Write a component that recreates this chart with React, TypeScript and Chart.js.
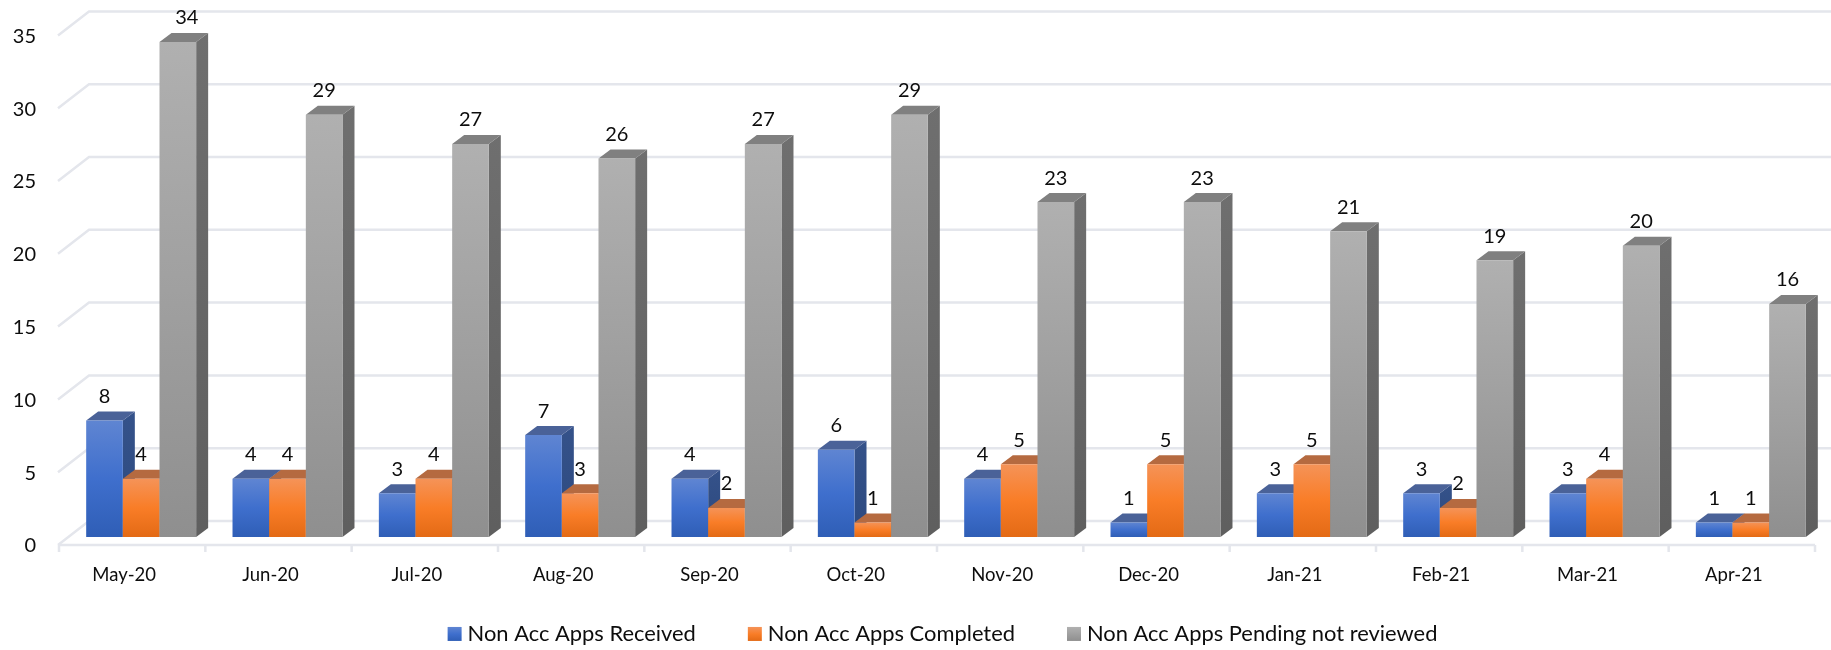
import React, { useEffect, useRef } from "react";
import { Chart, registerables } from "chart.js";

Chart.register(...registerables);

const categories = ["May-20", "Jun-20", "Jul-20", "Aug-20", "Sep-20", "Oct-20", "Nov-20", "Dec-20", "Jan-21", "Feb-21", "Mar-21", "Apr-21"];
const received = [8, 4, 3, 7, 4, 6, 4, 1, 3, 3, 3, 1];
const completed = [4, 4, 4, 3, 2, 1, 5, 5, 5, 2, 4, 1];
const pending = [34, 29, 27, 26, 27, 29, 23, 23, 21, 19, 20, 16];

const FONT = "Lato, 'Open Sans', sans-serif";
const TEXT = "#0d0d0d";
const GRID = "#e4e6ec";
const DX = 12;
const DY = 9;
const BACK_DX = 31;
const BACK_DY = 16;
const FRONT_DROP = 8;
const AXIS_TOP = 27.4;

const palette = [
  { stops: ["#5f85d2", "#3f6fcd", "#2f5eb6"], top: "#4a6298", side: ["#35528a", "#2d4a80"] },
  { stops: ["#f59358", "#f97d27", "#e36a15"], top: "#b56a40", side: ["#a8561d", "#a8561d"] },
  { stops: ["#b0b0b0", "#a0a0a0", "#8f8f8f"], top: "#808080", side: ["#6f6f6f", "#5f5f5f"] },
];

function gradient(ctx: CanvasRenderingContext2D, y0: number, y1: number, stops: string[]) {
  const g = ctx.createLinearGradient(0, y0, 0, y1);
  stops.forEach((s, i) => g.addColorStop(i / (stops.length - 1), s));
  return g;
}

const wallPlugin = {
  id: "wall",
  beforeDatasetsDraw(chart: any) {
    const { ctx, scales } = chart;
    const xs = scales.x;
    const ys = scales.y;
    const half = (xs.getPixelForValue(1) - xs.getPixelForValue(0)) / 2;
    const left = xs.getPixelForValue(0) - half - 9;
    const right = xs.getPixelForValue(categories.length - 1) + half - 9;
    ctx.save();
    ctx.strokeStyle = GRID;
    ctx.lineWidth = 2.5;
    ys.ticks.forEach((t: any) => {
      const y = ys.getPixelForValue(t.value);
      ctx.beginPath();
      ctx.moveTo(left - 1, y + FRONT_DROP);
      ctx.lineTo(left - 1 + BACK_DX, y - BACK_DY);
      ctx.lineTo(chart.width, y - BACK_DY);
      ctx.stroke();
    });
    const floor = ys.getPixelForValue(0) + FRONT_DROP;
    ctx.beginPath();
    ctx.moveTo(left, floor);
    ctx.lineTo(right, floor);
    for (let i = 0; i <= categories.length; i++) {
      const x = left + i * 2 * half;
      ctx.moveTo(x, floor);
      ctx.lineTo(x, floor + 7);
    }
    ctx.stroke();
    ctx.restore();
  },
  afterLayout(chart: any) {
    const ys = chart.scales.y;
    const bottom = ys.bottom;
    ys.top = AXIS_TOP;
    ys.height = bottom - AXIS_TOP;
    ys.configure();
    chart.chartArea.top = AXIS_TOP;
    chart.chartArea.height = bottom - AXIS_TOP;
    const lg = chart.legend;
    if (lg) {
      lg.left += 33;
      lg.right += 33;
      lg.top = 566;
      lg.bottom = 650;
    }
  },
};

const depthPlugin = {
  id: "depth",
  beforeDatasetDraw() {
    return false;
  },
  afterDatasetsDraw(chart: any) {
    const { ctx } = chart;
    chart.data.datasets.forEach((_: any, i: number) => {
      const meta = chart.getDatasetMeta(i);
      const col = palette[i];
      ctx.save();
      meta.data.forEach((b: any) => {
        const { x, y, base, width } = b.getProps(["x", "y", "base", "width"], true);
        const r = x + width / 2;
        const l = x - width / 2;
        ctx.fillStyle = gradient(ctx, y - DY, base - DY, col.side);
        ctx.beginPath();
        ctx.moveTo(r, y);
        ctx.lineTo(r + DX, y - DY);
        ctx.lineTo(r + DX, base - DY);
        ctx.lineTo(r, base);
        ctx.closePath();
        ctx.fill();
        ctx.fillStyle = col.top;
        ctx.beginPath();
        ctx.moveTo(l, y);
        ctx.lineTo(l + DX, y - DY);
        ctx.lineTo(r + DX, y - DY);
        ctx.lineTo(r, y);
        ctx.closePath();
        ctx.fill();
      });
      ctx.restore();
      meta.controller.draw();
    });
    ctx.save();
    ctx.fillStyle = TEXT;
    ctx.font = `20px ${FONT}`;
    ctx.textAlign = "center";
    ctx.textBaseline = "middle";
    chart.data.datasets.forEach((ds: any, i: number) => {
      chart.getDatasetMeta(i).data.forEach((b: any, j: number) => {
        const { x, y } = b.getProps(["x", "y"], true);
        const nudge = y < 60 ? 9 : 0;
        ctx.fillText(String(ds.data[j]), x + nudge, y - 24);
      });
    });
    ctx.restore();
  },
};

function barFill(index: number) {
  return (c: any) => {
    const chart = c.chart;
    const ys = chart.scales.y;
    if (!ys || !c.parsed) return palette[index].stops[1];
    return gradient(chart.ctx, ys.getPixelForValue(c.parsed.y), ys.getPixelForValue(0), palette[index].stops);
  };
}

export default function App() {
  const ref = useRef<HTMLCanvasElement>(null);
  useEffect(() => {
    document.body.style.margin = "0";
    const chart = new Chart(ref.current!, {
      type: "bar",
      data: {
        labels: categories,
        datasets: [
          { label: "Non Acc Apps Received", data: received, backgroundColor: barFill(0) },
          { label: "Non Acc Apps Completed", data: completed, backgroundColor: barFill(1) },
          { label: "Non Acc Apps Pending not reviewed", data: pending, backgroundColor: barFill(2) },
        ],
      },
      options: {
        responsive: false,
        animation: false,
        layout: { autoPadding: false, padding: { top: 11.4, right: 7, left: 0, bottom: 0 } },
        datasets: { bar: { barPercentage: 1, categoryPercentage: 0.7515, borderWidth: 0 } },
        scales: {
          x: {
            grid: { display: false, drawTicks: false },
            border: { display: false },
            afterFit: (s: any) => { s.height = 83; },
            ticks: {
              color: TEXT,
              font: { family: FONT, size: 18.5 },
              padding: 27,
              labelOffset: -17,
              maxRotation: 0,
              autoSkip: false,
            },
          },
          y: {
            min: 0,
            max: 35,
            grid: { display: false, drawTicks: false },
            border: { display: false },
            afterFit: (s: any) => { s.width = 68; },
            ticks: {
              stepSize: 5,
              color: TEXT,
              font: { family: FONT, size: 20 },
              padding: 32,
              labelOffset: 9,
            },
          },
        },
        plugins: {
          tooltip: { enabled: false },
          legend: {
            position: "bottom",
            maxHeight: 30,
            labels: {
              usePointStyle: true,
              boxWidth: 4,
              boxHeight: 14,
              padding: 57,
              color: TEXT,
              font: { family: FONT, size: 21.9 },
              generateLabels: (c: any) =>
                c.data.datasets.map((d: any, i: number) => ({
                  text: d.label,
                  fillStyle: gradient(c.ctx, 627, 641, palette[i].stops),
                  strokeStyle: "transparent",
                  lineWidth: 0,
                  pointStyle: "rect",
                  datasetIndex: i,
                  fontColor: TEXT,
                })),
            },
          },
        },
      },
      plugins: [wallPlugin, depthPlugin],
    } as any);
    return () => chart.destroy();
  }, []);
  return <canvas ref={ref} width={1831} height={650} style={{ display: "block" }} />;
}
